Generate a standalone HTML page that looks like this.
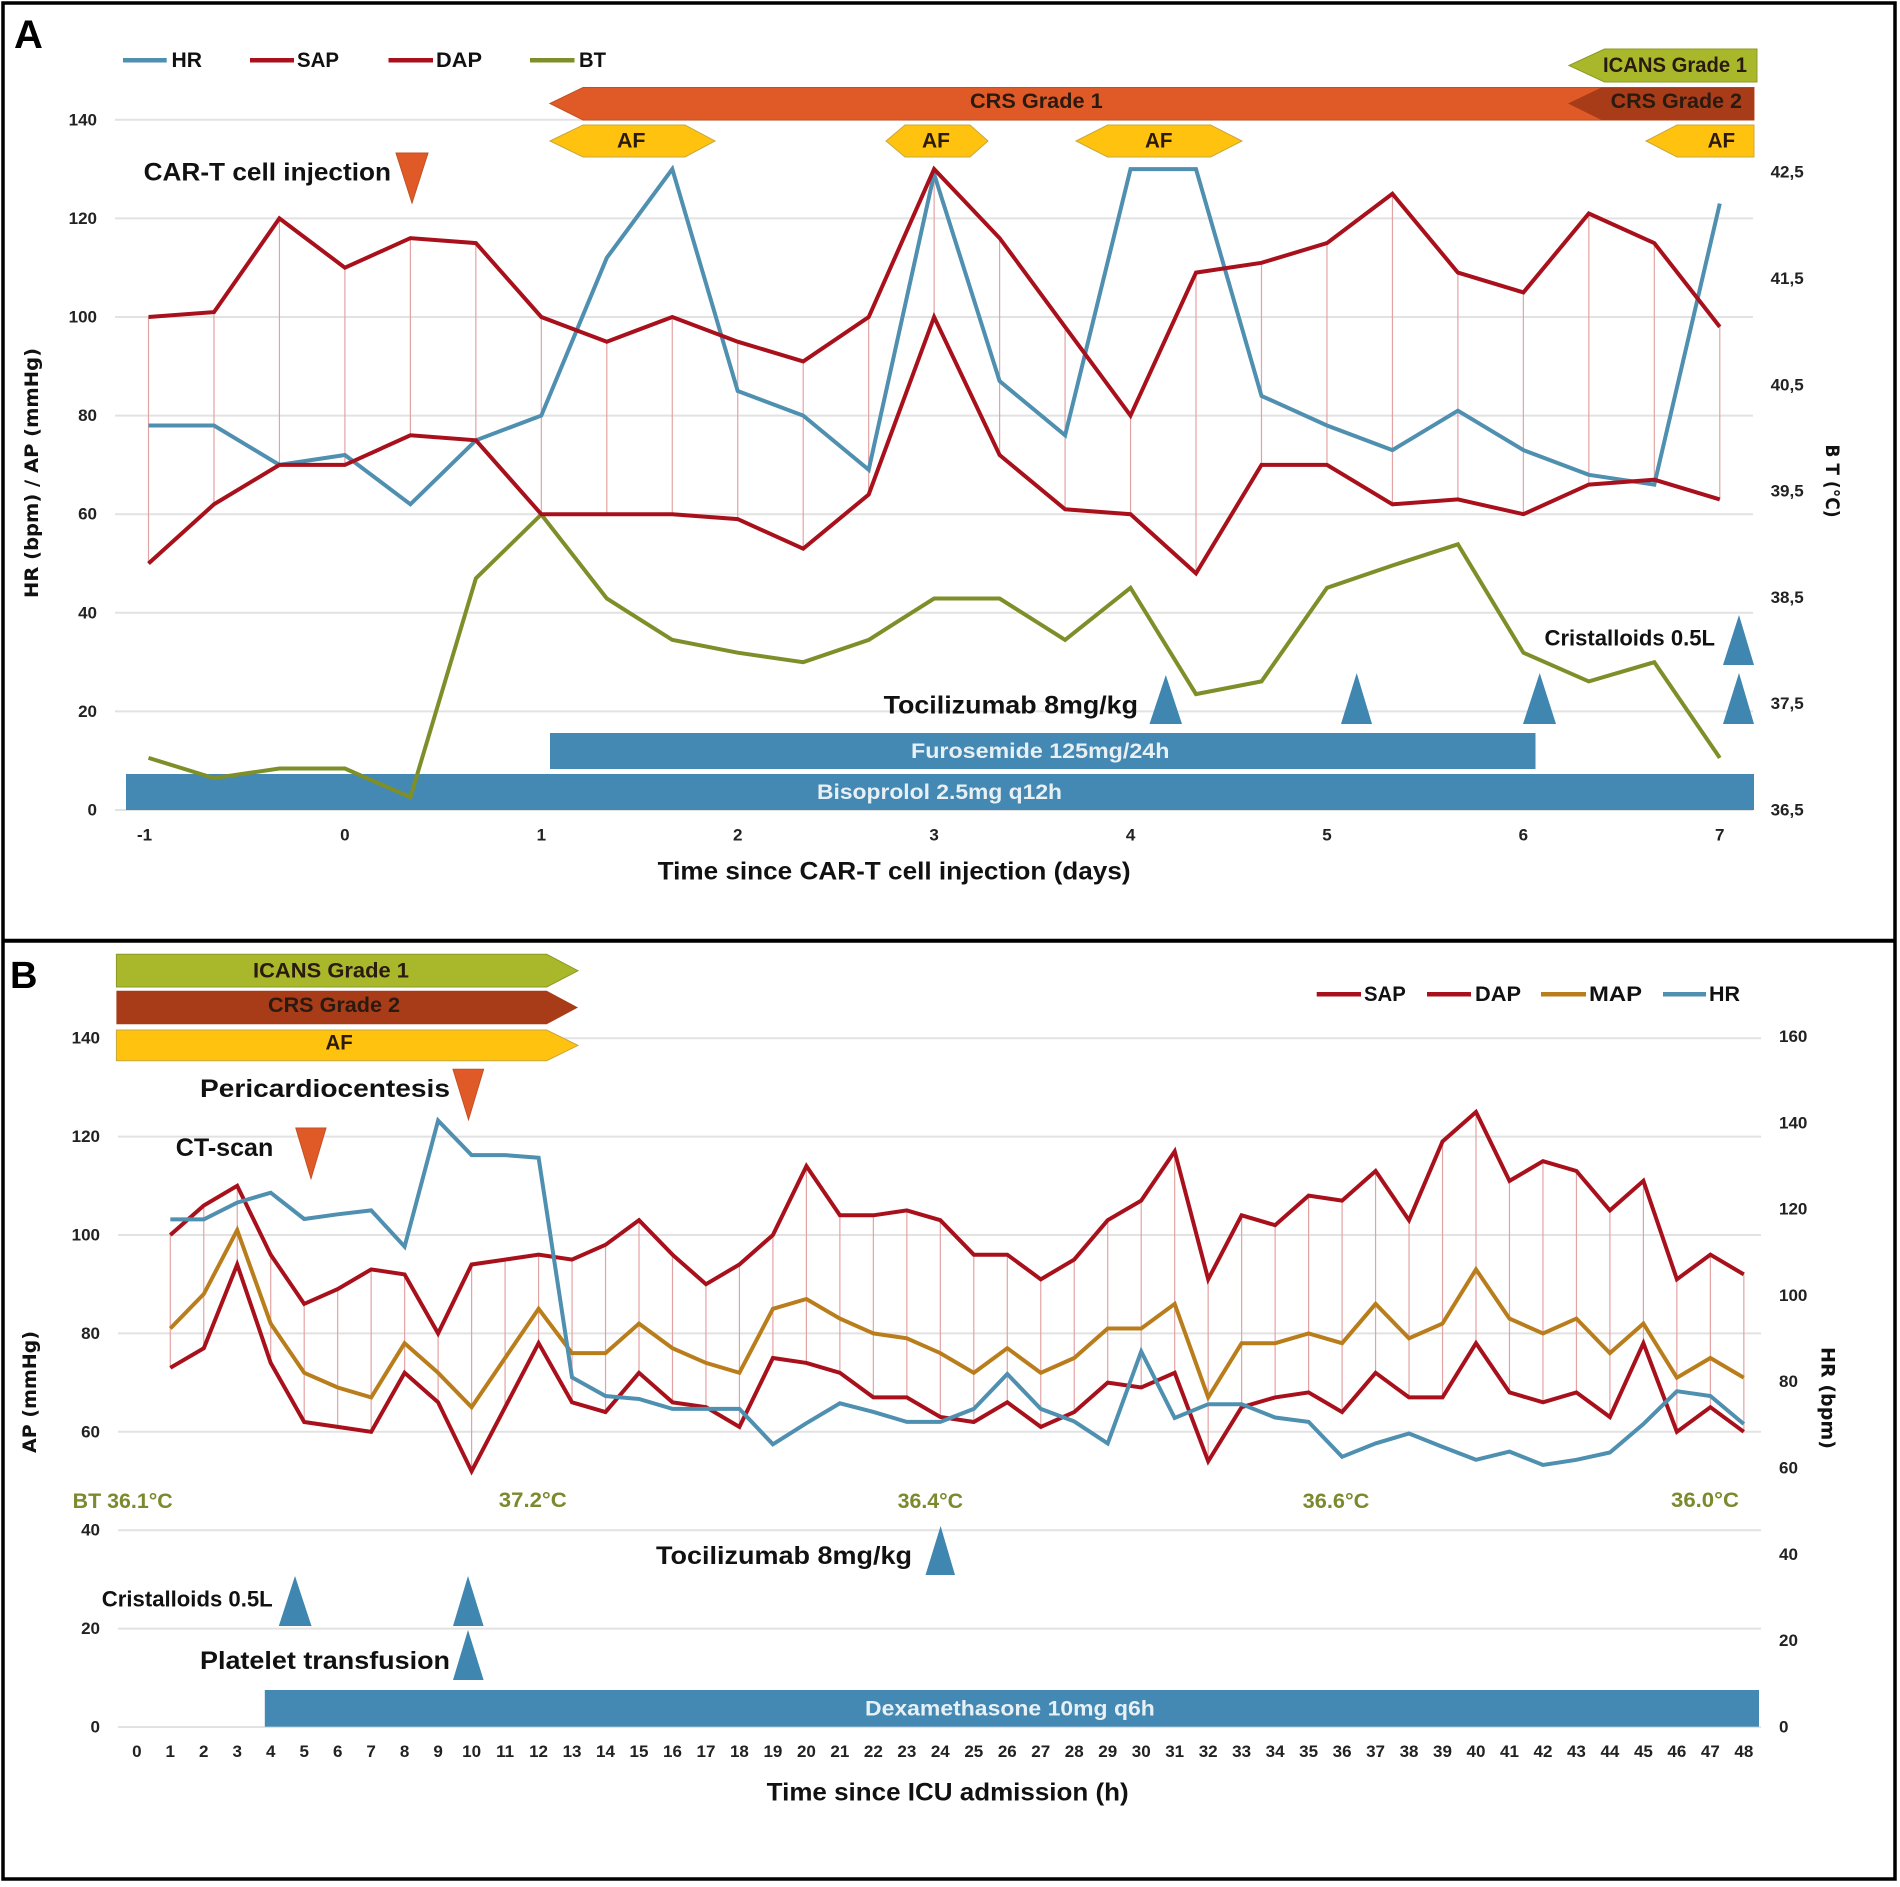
<!DOCTYPE html>
<html lang="en">
<head>
<meta charset="utf-8">
<title>CAR-T clinical course charts</title>
<style>
html,body{margin:0;padding:0;background:#fff;}
svg{display:block;font-family:"Liberation Sans",Arial,sans-serif;}
.lbl{font-weight:700;fill:#111;dominant-baseline:central;}
.big{font-size:25px;}
.mid{font-size:22px;}
.leg{font-size:21px;}
.bar-txt{font-size:21px;font-weight:700;fill:#2a1a10;dominant-baseline:central;}
.white{font-size:21px;font-weight:700;fill:#e8f0f4;dominant-baseline:central;}
.temp{font-size:21px;font-weight:700;fill:#7a8a2c;dominant-baseline:central;}
.tick{font-size:17px;font-weight:700;fill:#222;dominant-baseline:central;}
</style>
</head>
<body>
<svg id="figure" xmlns="http://www.w3.org/2000/svg" width="1900" height="1887" viewBox="0 0 1900 1887">
  <rect x="0" y="0" width="1900" height="1887" fill="#fff"/>

  <!-- PANEL A -->
  <g id="panel-a">
    <g id="a-grid"></g>
    <polygon points="1569,65.5 1604.5,49 1757,49 1757,82 1604.5,82" fill="#a9b82b" stroke="#8c9a26"/>
    <polygon points="550,103.5 583,87.5 1754,87.5 1754,120 583,120" fill="#e05a28" stroke="#c25024"/>
    <polygon points="1568,103.5 1601.5,87.5 1754,87.5 1754,120 1601.5,120" fill="#a83c18"/>
    <polygon points="550,141 583,125 685,125 715,141 685,157 583,157" fill="#ffc20e" stroke="#c8a83c"/>
    <polygon points="886,141 905,125 970,125 988,141 970,157 905,157" fill="#ffc20e" stroke="#c8a83c"/>
    <polygon points="1076,141 1107.6,125 1210.6,125 1242,141 1210.6,157 1107.6,157" fill="#ffc20e" stroke="#c8a83c"/>
    <polygon points="1646,141 1677,125 1754,125 1754,157 1677,157" fill="#ffc20e" stroke="#c8a83c"/>
    <rect x="550" y="733" width="985.5" height="36" fill="#4488b4"/>
    <rect x="126" y="774" width="1628" height="36" fill="#4488b4"/>
    <g id="a-drops"></g>
    <g id="a-series"></g>
    <g id="a-ticks"></g>

    <polygon points="396,153 428,153 412,203" fill="#e05a28" stroke="#c25024"/>
    <polygon points="1149.5,724 1165.8,675 1182,724" fill="#3f86b0"/>
    <polygon points="1341,724 1356.7,673 1372,724" fill="#3f86b0"/>
    <polygon points="1523,724 1539.7,673 1556,724" fill="#3f86b0"/>
    <polygon points="1723,724 1739,673 1754,724" fill="#3f86b0"/>
    <polygon points="1723,665 1739,615 1754,665" fill="#3f86b0"/>

    <text x="14" y="35" font-size="40" font-weight="700" fill="#000" dominant-baseline="central">A</text>
    <line x1="123" y1="60.3" x2="166.7" y2="60.3" stroke="#4f8fb0" stroke-width="4.5"/>
    <text class="lbl leg" x="171.5" y="60.5" textLength="30.5" lengthAdjust="spacingAndGlyphs">HR</text>
    <line x1="250" y1="60.3" x2="294" y2="60.3" stroke="#a8111c" stroke-width="4.5"/>
    <text class="lbl leg" x="297" y="60.5" textLength="42" lengthAdjust="spacingAndGlyphs">SAP</text>
    <line x1="388.5" y1="60.3" x2="433" y2="60.3" stroke="#a8111c" stroke-width="4.5"/>
    <text class="lbl leg" x="436" y="60.5" textLength="46" lengthAdjust="spacingAndGlyphs">DAP</text>
    <line x1="530" y1="60.3" x2="574.5" y2="60.3" stroke="#7e8f2a" stroke-width="4.5"/>
    <text class="lbl leg" x="579" y="60.5" textLength="27" lengthAdjust="spacingAndGlyphs">BT</text>

    <text class="bar-txt" x="1603" y="65.7" textLength="144" lengthAdjust="spacingAndGlyphs">ICANS Grade 1</text>
    <text class="bar-txt" x="970" y="101.7" textLength="132.7" lengthAdjust="spacingAndGlyphs">CRS Grade 1</text>
    <text class="bar-txt" x="1610.6" y="101.7" textLength="131.4" lengthAdjust="spacingAndGlyphs">CRS Grade 2</text>
    <text class="bar-txt" x="617" y="141" textLength="28.5" lengthAdjust="spacingAndGlyphs">AF</text>
    <text class="bar-txt" x="922" y="141" textLength="28" lengthAdjust="spacingAndGlyphs">AF</text>
    <text class="bar-txt" x="1145" y="141" textLength="27.5" lengthAdjust="spacingAndGlyphs">AF</text>
    <text class="bar-txt" x="1707.6" y="141" textLength="27.5" lengthAdjust="spacingAndGlyphs">AF</text>
    <text class="lbl big" x="143.6" y="172.7" textLength="247.4" lengthAdjust="spacingAndGlyphs">CAR-T cell injection</text>
    <text class="lbl big" x="883.6" y="705.7" textLength="254.4" lengthAdjust="spacingAndGlyphs">Tocilizumab 8mg/kg</text>
    <text class="lbl mid" x="1544.5" y="638" textLength="170.5" lengthAdjust="spacingAndGlyphs">Cristalloids 0.5L</text>
    <text class="white" x="911" y="751.7" textLength="258.4" lengthAdjust="spacingAndGlyphs">Furosemide 125mg/24h</text>
    <text class="white" x="817" y="792.7" textLength="245" lengthAdjust="spacingAndGlyphs">Bisoprolol 2.5mg q12h</text>
    <text class="lbl big" x="657.6" y="871.7" textLength="473" lengthAdjust="spacingAndGlyphs">Time since CAR-T cell injection (days)</text>
    <text transform="translate(32,473) rotate(-90)" text-anchor="middle" font-family="'DejaVu Sans',sans-serif" font-size="19" font-weight="700" fill="#111" dominant-baseline="central" textLength="250" lengthAdjust="spacingAndGlyphs">HR (bpm) / AP (mmHg)</text>
    <text transform="translate(1832,481) rotate(90)" text-anchor="middle" font-family="'DejaVu Sans',sans-serif" font-size="19" font-weight="700" fill="#111" dominant-baseline="central" textLength="73" lengthAdjust="spacingAndGlyphs">B T (°C)</text>
  </g>

  <!-- PANEL B -->
  <g id="panel-b">
    <g id="b-grid"></g>
    <polygon points="116.4,954.3 546.7,954.3 578,970.7 546.7,987 116.4,987" fill="#a9b82b" stroke="#8c9a26"/>
    <polygon points="116.4,990.7 546.7,990.7 578,1007.5 546.7,1024.3 116.4,1024.3" fill="#a83c18"/>
    <polygon points="116.4,1030 546.7,1030 578,1045.4 546.7,1060.7 116.4,1060.7" fill="#ffc20e" stroke="#c8a83c"/>
    <rect x="264.8" y="1690" width="1494.2" height="36.7" fill="#4488b4"/>
    <g id="b-drops"></g>
    <g id="b-series"></g>
    <g id="b-ticks"></g>

    <polygon points="453,1069.3 483.6,1069.3 468.5,1119.6" fill="#e05a28" stroke="#c25024"/>
    <polygon points="295.8,1128 326,1128 311,1178.6" fill="#e05a28" stroke="#c25024"/>
    <polygon points="925.5,1575 940.6,1526 955,1575" fill="#3f86b0"/>
    <polygon points="278.8,1626 295,1576 311.5,1626" fill="#3f86b0"/>
    <polygon points="453,1626 468,1576 483.6,1626" fill="#3f86b0"/>
    <polygon points="453,1680 468,1630 483.6,1680" fill="#3f86b0"/>

    <text x="10" y="976" font-size="38" font-weight="700" fill="#000" dominant-baseline="central">B</text>
    <text class="bar-txt" x="253" y="971" textLength="156" lengthAdjust="spacingAndGlyphs">ICANS Grade 1</text>
    <text class="bar-txt" x="268" y="1005.7" textLength="132" lengthAdjust="spacingAndGlyphs">CRS Grade 2</text>
    <text class="bar-txt" x="325.5" y="1043" textLength="27.2" lengthAdjust="spacingAndGlyphs">AF</text>

    <line x1="1316.7" y1="994.3" x2="1361" y2="994.3" stroke="#a8111c" stroke-width="4.5"/>
    <text class="lbl leg" x="1364" y="994.5" textLength="41.8" lengthAdjust="spacingAndGlyphs">SAP</text>
    <line x1="1427" y1="994.3" x2="1471" y2="994.3" stroke="#a8111c" stroke-width="4.5"/>
    <text class="lbl leg" x="1475" y="994.5" textLength="46" lengthAdjust="spacingAndGlyphs">DAP</text>
    <line x1="1541" y1="994.3" x2="1586" y2="994.3" stroke="#b97d1c" stroke-width="4.5"/>
    <text class="lbl leg" x="1589" y="994.5" textLength="53" lengthAdjust="spacingAndGlyphs">MAP</text>
    <line x1="1663" y1="994.3" x2="1706" y2="994.3" stroke="#4f8fb0" stroke-width="4.5"/>
    <text class="lbl leg" x="1709" y="994.5" textLength="31" lengthAdjust="spacingAndGlyphs">HR</text>

    <text class="lbl big" x="200" y="1089" textLength="250" lengthAdjust="spacingAndGlyphs">Pericardiocentesis</text>
    <text class="lbl big" x="175.8" y="1148" textLength="97.5" lengthAdjust="spacingAndGlyphs">CT-scan</text>
    <text class="temp" x="72.7" y="1501.7" textLength="100" lengthAdjust="spacingAndGlyphs">BT 36.1°C</text>
    <text class="temp" x="498.8" y="1500.7" textLength="68" lengthAdjust="spacingAndGlyphs">37.2°C</text>
    <text class="temp" x="897.6" y="1501.7" textLength="65.5" lengthAdjust="spacingAndGlyphs">36.4°C</text>
    <text class="temp" x="1302.7" y="1501.7" textLength="66.7" lengthAdjust="spacingAndGlyphs">36.6°C</text>
    <text class="temp" x="1671" y="1500.7" textLength="68" lengthAdjust="spacingAndGlyphs">36.0°C</text>
    <text class="lbl big" x="656" y="1556" textLength="256" lengthAdjust="spacingAndGlyphs">Tocilizumab 8mg/kg</text>
    <text class="lbl mid" x="101.8" y="1599" textLength="170.9" lengthAdjust="spacingAndGlyphs">Cristalloids 0.5L</text>
    <text class="lbl big" x="200" y="1661" textLength="250" lengthAdjust="spacingAndGlyphs">Platelet transfusion</text>
    <text class="white" x="865" y="1709" textLength="289.8" lengthAdjust="spacingAndGlyphs">Dexamethasone 10mg q6h</text>
    <text class="lbl big" x="766.7" y="1792.7" textLength="362" lengthAdjust="spacingAndGlyphs">Time since ICU admission (h)</text>
    <text transform="translate(30,1392) rotate(-90)" text-anchor="middle" font-family="'DejaVu Sans',sans-serif" font-size="19" font-weight="700" fill="#111" dominant-baseline="central" textLength="122" lengthAdjust="spacingAndGlyphs">AP (mmHg)</text>
    <text transform="translate(1827.6,1398) rotate(90)" text-anchor="middle" font-family="'DejaVu Sans',sans-serif" font-size="19" font-weight="700" fill="#111" dominant-baseline="central" textLength="102" lengthAdjust="spacingAndGlyphs">HR (bpm)</text>
  </g>

  <rect x="3" y="3" width="1892" height="1876" fill="none" stroke="#000" stroke-width="3.5"/>
  <line x1="3" y1="940.7" x2="1895" y2="940.7" stroke="#000" stroke-width="4"/>
</svg>

<script>
// ---------- Panel A data ----------
const aCategories = ['-1','-1+8h','-1+16h','0','0+8h','0+16h','1','1+8h','1+16h','2','2+8h','2+16h','3','3+8h','3+16h','4','4+8h','4+16h','5','5+8h','5+16h','6','6+8h','6+16h','7'];
const aHR  = [78,78,70,72,62,75,80,112,130,85,80,69,129,87,76,130,130,84,78,73,81,73,68,66,123];
const aSAP = [100,101,120,110,116,115,100,95,100,95,91,100,130,116,98,80,109,111,115,125,109,105,121,115,98];
const aDAP = [50,62,70,70,76,75,60,60,60,59,53,64,100,72,61,60,48,70,70,62,63,60,66,67,63];
const aBT  = [36.99,36.80,36.89,36.89,36.62,38.68,39.28,38.49,38.10,37.98,37.89,38.10,38.49,38.49,38.10,38.59,37.59,37.71,38.59,38.80,39.00,37.98,37.71,37.89,36.99];
const aLeftTicks = [0,20,40,60,80,100,120,140];
const aRightTicks = ['36,5','37,5','38,5','39,5','40,5','41,5','42,5'];
const aXTicks = ['-1','0','1','2','3','4','5','6','7'];

// ---------- Panel B data ----------
const bCategories = [1,2,3,4,5,6,7,8,9,10,11,12,13,14,15,16,17,18,19,20,21,22,23,24,25,26,27,28,29,30,31,32,33,34,35,36,37,38,39,40,41,42,43,44,45,46,47,48];
const bSAP = [100,106,110,96,86,89,93,92,80,94,95,96,95,98,103,96,90,94,100,114,104,104,105,103,96,96,91,95,103,107,117,91,104,102,108,107,113,103,119,125,111,115,113,105,111,91,96,92];
const bDAP = [73,77,94,74,62,61,60,72,66,52,65,78,66,64,72,66,65,61,75,74,72,67,67,63,62,66,61,64,70,69,72,54,65,67,68,64,72,67,67,78,68,66,68,63,78,60,65,60];
const bMAP = [81,88,101,82,72,69,67,78,72,65,75,85,76,76,82,77,74,72,85,87,83,80,79,76,72,77,72,75,81,81,86,67,78,78,80,78,86,79,82,93,83,80,83,76,82,71,75,71];
const bHR  = [117.6,117.6,121.5,123.8,117.7,118.8,119.7,111.3,140.5,132.5,132.5,131.9,81,76.7,76,73.7,73.7,73.7,65.5,70.4,75,73,70.7,70.7,73.7,81.8,73.7,70.8,65.7,87,71.6,74.8,74.8,71.7,70.7,62.6,65.7,68,64.9,61.9,63.8,60.7,61.9,63.6,70.2,77.8,76.7,70.2];
const bLeftTicks = [0,20,40,60,80,100,120,140];
const bRightTicks = [0,20,40,60,80,100,120,140,160];
const bXTicks = [0,1,2,3,4,5,6,7,8,9,10,11,12,13,14,15,16,17,18,19,20,21,22,23,24,25,26,27,28,29,30,31,32,33,34,35,36,37,38,39,40,41,42,43,44,45,46,47,48];

// ---------- Axis functions ----------
function xA(i){ return 148.5 + i * 65.47; }
function yA(v){ return 810 - v * 4.93; }
function yBT(t){ return 810 - (t - 36.5) * 106.3; }
function xB(h){ return 136.8 + h * 33.48; }
function yB(v){ return 1727 - v * 4.92; }
function yHR(v){ return 1727 - v * 4.316; }

// ---------- Drawing helpers ----------
const NS = 'http://www.w3.org/2000/svg';
function make(parent, tag, attrs, txt){
  const el = document.createElementNS(NS, tag);
  for (const k in attrs) el.setAttribute(k, attrs[k]);
  if (txt !== undefined) el.textContent = txt;
  parent.appendChild(el);
  return el;
}
function drawLine(parent, xs, ys, color, name){
  const pts = xs.map((x, i) => x.toFixed(1) + ',' + ys[i].toFixed(1)).join(' ');
  const el = make(parent, 'polyline', {points: pts, fill: 'none', stroke: color, 'stroke-width': 4, 'stroke-linejoin': 'miter'});
  
  
}
function drawGrid(parent, ys, x1, x2){
  ys.forEach(function(y){
    const el = make(parent, 'line', {x1: x1, x2: x2, y1: y, y2: y, stroke: '#e2e2e2', 'stroke-width': 2});
    
    
  });
}
function drawDrops(parent, xs, hi, lo){
  xs.forEach(function(x, i){
    const el = make(parent, 'line', {x1: x, x2: x, y1: hi[i], y2: lo[i], stroke: '#e3a3a3', 'stroke-width': 1.2});
    
    
  });
}
function drawTick(parent, x, y, anchor, label, name){
  const el = make(parent, 'text', {x: x, y: y, 'text-anchor': anchor, 'class': 'tick'}, label);
  
  
}

// ---------- Panel A ----------
const aXs = aCategories.map((c, i) => xA(i));
drawGrid(document.getElementById('a-grid'), aLeftTicks.map(yA), 115, 1753);
drawDrops(document.getElementById('a-drops'), aXs, aSAP.map(yA), aDAP.map(yA));
const aSeries = document.getElementById('a-series');
drawLine(aSeries, aXs, aBT.map(yBT), '#7e8f2a', 'a-bt-line');
drawLine(aSeries, aXs, aHR.map(yA), '#4f8fb0', 'a-hr-line');
drawLine(aSeries, aXs, aDAP.map(yA), '#a8111c', 'a-dap-line');
drawLine(aSeries, aXs, aSAP.map(yA), '#a8111c', 'a-sap-line');
const aTicks = document.getElementById('a-ticks');
aLeftTicks.forEach(function(v){ drawTick(aTicks, 97, yA(v), 'end', String(v), 'a-left-tick'); });
aRightTicks.forEach(function(s){ drawTick(aTicks, 1770.6, yBT(parseFloat(s.replace(',', '.'))), 'start', s, 'a-right-tick'); });
aXTicks.forEach(function(s, k){ drawTick(aTicks, xA(k * 3) - (k === 0 ? 4 : 0), 835, 'middle', s, 'a-x-tick'); });

// ---------- Panel B ----------
const bXs = bCategories.map(xB);
drawGrid(document.getElementById('b-grid'), bLeftTicks.map(yB), 118, 1761);
drawDrops(document.getElementById('b-drops'), bXs, bSAP.map(yB), bDAP.map(yB));
const bSeries = document.getElementById('b-series');
drawLine(bSeries, bXs, bMAP.map(yB), '#b97d1c', 'b-map-line');
drawLine(bSeries, bXs, bDAP.map(yB), '#a8111c', 'b-dap-line');
drawLine(bSeries, bXs, bSAP.map(yB), '#a8111c', 'b-sap-line');
drawLine(bSeries, bXs, bHR.map(yHR), '#4f8fb0', 'b-hr-line');
const bTicks = document.getElementById('b-ticks');
bLeftTicks.forEach(function(v){ drawTick(bTicks, 100, yB(v), 'end', String(v), 'b-left-tick'); });
bRightTicks.forEach(function(v){ drawTick(bTicks, 1779, yHR(v), 'start', String(v), 'b-right-tick'); });
bXTicks.forEach(function(h){ drawTick(bTicks, xB(h), 1751.7, 'middle', String(h), 'b-x-tick'); });
</script>
</body>
</html>
